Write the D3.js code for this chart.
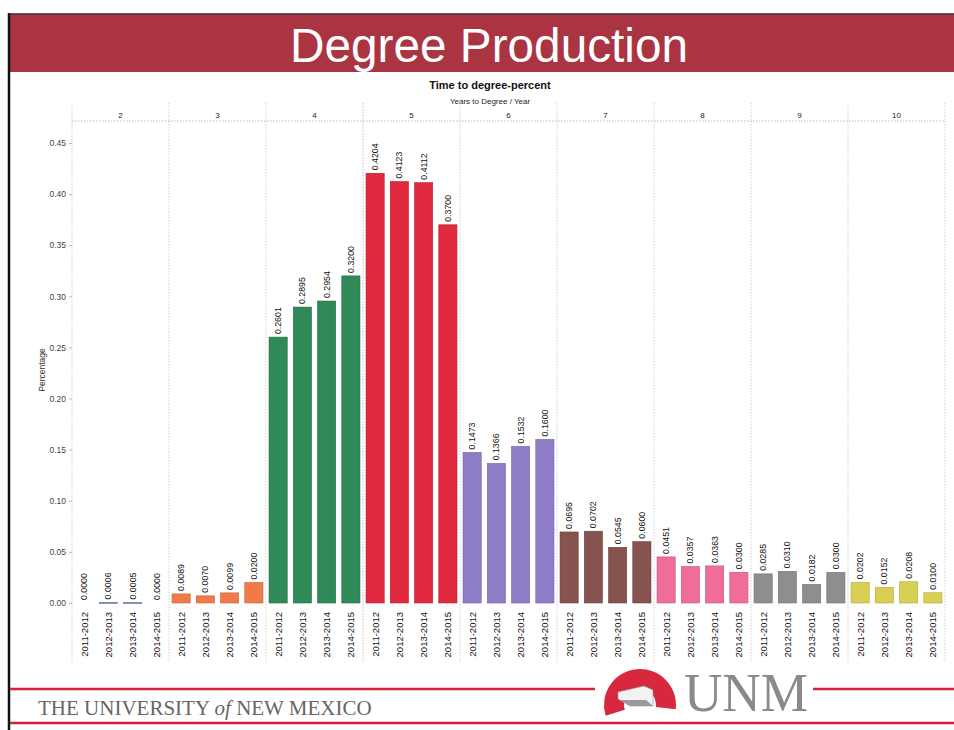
<!DOCTYPE html>
<html><head><meta charset="utf-8">
<script src="https://cdn.jsdelivr.net/npm/d3@7"></script>
<style>body{margin:0;background:#fff}svg{display:block}</style>
</head><body>
<svg id="c" width="954" height="730"></svg>
<script>
const groups = ["2","3","4","5","6","7","8","9","10"];
const years = ["2011-2012","2012-2013","2013-2014","2014-2015"];
const values2 = [0.0000,0.0006,0.0005,0.0000];
const values3 = [0.0089,0.0070,0.0099,0.0200];
const values4 = [0.2601,0.2895,0.2954,0.3200];
const values5 = [0.4204,0.4123,0.4112,0.3700];
const values6 = [0.1473,0.1366,0.1532,0.1600];
const values7 = [0.0695,0.0702,0.0545,0.0600];
const values8 = [0.0451,0.0357,0.0363,0.0300];
const values9 = [0.0285,0.0310,0.0182,0.0300];
const values10 = [0.0202,0.0152,0.0208,0.0100];
const yTicks = [0,0.05,0.10,0.15,0.20,0.25,0.30,0.35,0.40,0.45];
const colors = ["#6f8fb8","#f27a48","#2f8a58","#e0283f","#8e7dc6","#86534f","#f06d98","#8e8e8e","#d8d052"];
const allValues = [values2,values3,values4,values5,values6,values7,values8,values9,values10];

(function(){
const svg = d3.select("#c");

// slide frame
svg.append("rect").attr("x",8).attr("y",14).attr("width",946).attr("height",58).attr("fill","#ab3443");
svg.append("line").attr("x1",8).attr("x2",954).attr("y1",14).attr("y2",14).attr("stroke","#333").attr("stroke-width",1.5);
svg.append("line").attr("x1",9).attr("x2",9).attr("y1",13).attr("y2",730).attr("stroke","#111").attr("stroke-width",2.5);
svg.append("text").attr("x",489).attr("y",62).attr("text-anchor","middle")
  .attr("font-family","Liberation Sans, Arial, sans-serif").attr("font-size",48).attr("fill","#fff")
  .attr("textLength",398).attr("lengthAdjust","spacingAndGlyphs")
  .text("Degree Production");

// chart
const font = "Liberation Sans, Arial, sans-serif";
svg.append("text").attr("x",490).attr("y",89).attr("text-anchor","middle").attr("font-family",font)
  .attr("font-size",11).attr("font-weight","bold").attr("fill","#111").text("Time to degree-percent");
svg.append("text").attr("x",490).attr("y",104).attr("text-anchor","middle").attr("font-family",font)
  .attr("font-size",8).attr("fill","#222").text("Years to Degree  /  Year");

const pLeft = 72, pRight = 945, pTop = 121, baseY = 603;
const y = d3.scaleLinear().domain([0,0.45]).range([baseY,143]);
const gx = d3.scaleBand().domain(groups).range([pLeft,pRight]).padding(0);
const bx = d3.scaleBand().domain(years).range([0,gx.bandwidth()]).paddingInner(0.25).paddingOuter(0.125);

// y axis
const yAxis = d3.axisLeft(y).tickValues(yTicks).tickFormat(d3.format(".2f")).tickSize(3);
const ya = svg.append("g").attr("transform",`translate(${pLeft},0)`).call(yAxis);
ya.select(".domain").remove();
ya.selectAll("line").attr("stroke","#bbb");
ya.selectAll("text").attr("font-family",font).attr("font-size",8.5).attr("fill","#444");
svg.append("text").attr("transform",`translate(45,370) rotate(-90)`).attr("text-anchor","middle")
  .attr("font-family",font).attr("font-size",8.5).attr("fill","#333").text("Percentage");

// dividers
const divs = groups.map(g=>gx(g)).concat([pRight]);
svg.selectAll(".div").data(divs).join("line")
  .attr("x1",d=>d).attr("x2",d=>d).attr("y1",103).attr("y2",662)
  .attr("stroke",(d,i)=> i===3 ? "#e4b0b8" : "#cfcfcf").attr("stroke-dasharray","1.5,1.5");
svg.append("line").attr("x1",pLeft).attr("x2",pRight).attr("y1",pTop).attr("y2",pTop)
  .attr("stroke","#bbb").attr("stroke-dasharray","1.5,1.5");

// column headers
svg.selectAll(".hdr").data(groups).join("text")
  .attr("x",d=>gx(d)+gx.bandwidth()/2).attr("y",118).attr("text-anchor","middle")
  .attr("font-family",font).attr("font-size",8).attr("fill","#222").text(d=>d);

// bars
groups.forEach((g,gi)=>{
  const gg = svg.append("g").attr("transform",`translate(${gx(g)},0)`);
  const data = years.map((yr,i)=>({yr,v:allValues[gi][i]}));
  gg.selectAll("rect").data(data).join("rect")
    .attr("x",d=>bx(d.yr)).attr("width",bx.bandwidth())
    .attr("y",d=>y(d.v)).attr("height",d=>Math.max(baseY-y(d.v), d.v>0?1:0))
    .attr("fill",colors[gi]).attr("stroke",d3.color(colors[gi]).darker(0.6)).attr("stroke-width",0.6);
  gg.selectAll(".val").data(data).join("text")
    .attr("transform",d=>`translate(${bx(d.yr)+bx.bandwidth()/2+3},${y(d.v)-3}) rotate(-90)`)
    .attr("font-family",font).attr("font-size",8.8).attr("fill","#111").text(d=>d3.format(".4f")(d.v));
  gg.selectAll(".xl").data(data).join("text")
    .attr("transform",d=>`translate(${bx(d.yr)+bx.bandwidth()/2+3.5},${baseY+9}) rotate(-90)`)
    .attr("text-anchor","end")
    .attr("font-family",font).attr("font-size",9.5).attr("fill","#111").text(d=>d.yr);
});

// footer
svg.append("line").attr("x1",10).attr("x2",595).attr("y1",689).attr("y2",689).attr("stroke","#d2223a").attr("stroke-width",2.5);
svg.append("line").attr("x1",813).attr("x2",954).attr("y1",689).attr("y2",689).attr("stroke","#d2223a").attr("stroke-width",2.5);
svg.append("line").attr("x1",10).attr("x2",954).attr("y1",723).attr("y2",723).attr("stroke","#d2223a").attr("stroke-width",2.5);
const ft = svg.append("text").attr("x",38).attr("y",715).attr("font-family","Liberation Serif, Times New Roman, serif")
  .attr("font-size",21).attr("fill","#666");
ft.append("tspan").text("THE UNIVERSITY ");
ft.append("tspan").attr("font-style","italic").text("of");
ft.append("tspan").text(" NEW MEXICO");

// logo arch
const arc = d3.arc().innerRadius(16).outerRadius(36).startAngle(-Math.PI/2-0.3).endAngle(Math.PI/2+0.12);
svg.append("path").attr("d",arc()).attr("transform","translate(640,705)").attr("fill","#d8283d");
svg.append("path").attr("d","M618,692 L644,686 L653,690 L653,706 L630,706 L618,699 Z").attr("fill","#f2f2f2").attr("stroke","#999").attr("stroke-width",0.6);
svg.append("path").attr("d","M620,700 L646,700 L653,706 L630,706 Z").attr("fill","#999");
svg.append("text").attr("x",684).attr("y",711).attr("font-family","Liberation Serif, Times New Roman, serif")
  .attr("font-size",54).attr("fill","#8a8a8a").attr("textLength",124).attr("lengthAdjust","spacingAndGlyphs").text("UNM");
})();
</script>
</body></html>
